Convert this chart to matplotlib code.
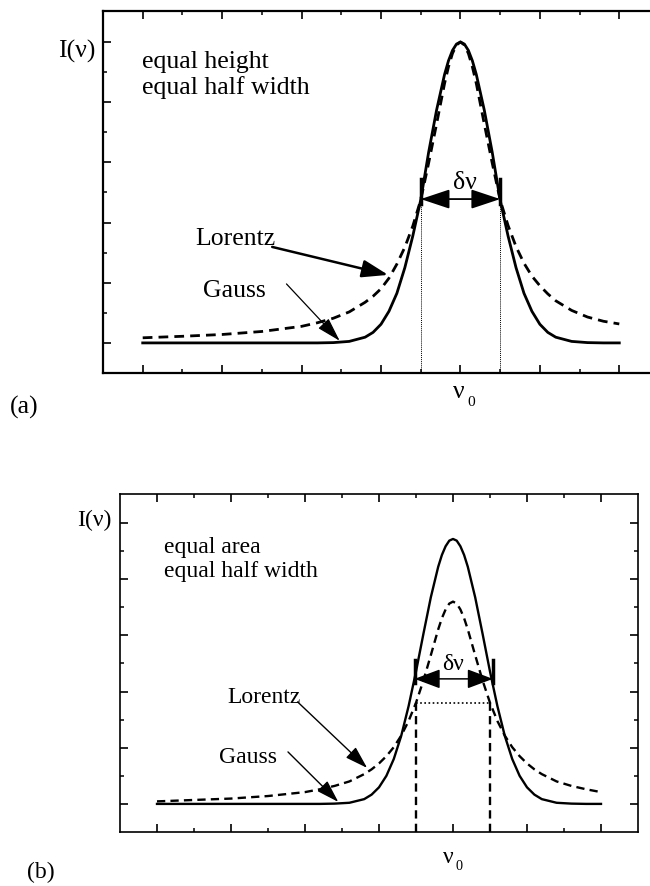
import matplotlib
matplotlib.use('Agg')
import matplotlib.pyplot as plt
from matplotlib.ticker import FixedLocator

plt.rcParams['font.family'] = ['Liberation Serif', 'DejaVu Serif']

# ---------------- data ----------------
# frequency offset from line centre, in units of the major tick spacing
nu = [-4.0, -3.5, -3.0, -2.5, -2.0, -1.8, -1.6, -1.4, -1.2, -1.1, -1.0, -0.9,
      -0.8, -0.7, -0.6, -0.5, -0.4, -0.3, -0.2, -0.15, -0.1, -0.05, 0.0,
      0.05, 0.1, 0.15, 0.2, 0.3, 0.4, 0.5, 0.6, 0.7, 0.8, 0.9, 1.0, 1.1,
      1.2, 1.4, 1.6, 1.8, 2.0]

# (a) equal height, equal half width
gauss_a = [0.0, 0.0, 0.0, 0.0, 0.0, 0.0, 0.001, 0.005, 0.019, 0.035, 0.062, 0.105,
           0.165, 0.25, 0.355, 0.475, 0.634, 0.774, 0.892, 0.938, 0.972, 0.993, 1.0,
           0.993, 0.972, 0.938, 0.892, 0.774, 0.634, 0.475, 0.355, 0.25, 0.165, 0.105, 0.062, 0.035,
           0.019, 0.005, 0.001, 0.0, 0.0]
lorentz_a = [0.017, 0.022, 0.028, 0.038, 0.055, 0.067, 0.082, 0.103, 0.135, 0.155, 0.18, 0.215,
             0.262, 0.318, 0.388, 0.475, 0.598, 0.728, 0.862, 0.918, 0.962, 0.99, 1.0,
             0.99, 0.962, 0.918, 0.862, 0.728, 0.598, 0.475, 0.39, 0.32, 0.265, 0.222, 0.19, 0.163,
             0.14, 0.108, 0.086, 0.072, 0.063]

# (b) equal area, equal half width
gauss_b = [0.0, 0.0, 0.0, 0.0, 0.0, 0.0, 0.001, 0.004, 0.017, 0.033, 0.059, 0.10,
           0.16, 0.242, 0.348, 0.471, 0.605, 0.735, 0.844, 0.886, 0.917, 0.937, 0.943,
           0.937, 0.917, 0.886, 0.844, 0.735, 0.605, 0.471, 0.348, 0.242, 0.16, 0.10, 0.059, 0.033,
           0.017, 0.004, 0.001, 0.0, 0.0]
lorentz_b = [0.009, 0.014, 0.019, 0.028, 0.042, 0.052, 0.064, 0.08, 0.106, 0.123, 0.144, 0.17,
             0.202, 0.243, 0.295, 0.36, 0.439, 0.529, 0.621, 0.661, 0.692, 0.713, 0.72,
             0.713, 0.692, 0.661, 0.621, 0.529, 0.439, 0.36, 0.295, 0.243, 0.202, 0.17, 0.144, 0.123,
             0.106, 0.08, 0.064, 0.052, 0.042]

x_major = [-4, -3, -2, -1, 0, 1, 2]
x_minor = [-3.5, -2.5, -1.5, -0.5, 0.5, 1.5]
y_major = [0.0, 0.2, 0.4, 0.6, 0.8, 1.0]
y_minor = [0.1, 0.3, 0.5, 0.7, 0.9]

half_width = 0.5          # half width at half maximum
level_a = 0.46            # half-maximum crossing marked in (a)
arrow_a = 0.478           # double arrow level in (a)
level_b_gauss = 0.445     # double arrow level in (b)
level_b_lor = 0.36        # Lorentz half maximum in (b)

# ---------------- figure ----------------
W, H = 650, 886
fig = plt.figure(figsize=(W / 100, H / 100), dpi=100)


def box(l, t, r, b):
    return [l / W, 1 - b / H, (r - l) / W, (b - t) / H]


def style(ax, lw):
    ax.set_xlim(-4.5, 2.5)
    ax.set_ylim(-0.1, 1.103)
    ax.xaxis.set_major_locator(FixedLocator(x_major))
    ax.xaxis.set_minor_locator(FixedLocator(x_minor))
    ax.yaxis.set_major_locator(FixedLocator(y_major))
    ax.yaxis.set_minor_locator(FixedLocator(y_minor))
    ax.tick_params(which='both', direction='in', top=True, right=True,
                   labelbottom=False, labelleft=False, color='k')
    ax.tick_params(which='major', length=6, width=1.2)
    ax.tick_params(which='minor', length=3, width=1.1)
    for s in ax.spines.values():
        s.set_linewidth(lw)


axa = fig.add_axes(box(103, 11, 659, 373))
axb = fig.add_axes(box(120, 494, 638, 832))
style(axa, 1.6)
style(axb, 1.2)

# ---- panel (a) ----
fa = 18.5
axa.plot(nu, gauss_a, color='k', lw=2.0)
axa.plot(nu, lorentz_a, color='k', lw=2.0, ls=(0, (3.5, 2.2)))
for s in (-half_width, half_width):
    axa.plot([s, s], [-0.1, level_a], color='k', lw=0.7, ls=(0, (1, 1)))
    axa.plot([s, s], [level_a, level_a + 0.085], color='k', lw=2.5)
axa.annotate('', xy=(half_width, arrow_a), xytext=(-half_width, arrow_a),
             arrowprops=dict(arrowstyle='<|-|>,head_length=0.9,head_width=0.3',
                             mutation_scale=20, lw=1.3, color='k',
                             shrinkA=0, shrinkB=0))
axa.text(0.06, 0.512, 'δν', fontsize=fa, ha='center', va='baseline')
axa.text(-4.01, 0.915, 'equal height', fontsize=fa, ha='left', va='baseline')
axa.text(-4.01, 0.828, 'equal half width', fontsize=fa, ha='left', va='baseline')
axa.text(-4.6, 0.967, 'I(ν)', fontsize=fa, ha='right', va='center')
axa.text(-3.34, 0.326, 'Lorentz', fontsize=fa, ha='left', va='baseline')
axa.text(-3.24, 0.153, 'Gauss', fontsize=fa, ha='left', va='baseline')
axa.annotate('', xy=(-0.91, 0.226), xytext=(-2.37, 0.319),
             arrowprops=dict(arrowstyle='-|>,head_length=0.8,head_width=0.27',
                             mutation_scale=20, lw=1.8, color='k',
                             shrinkA=0, shrinkB=0))
axa.annotate('', xy=(-1.52, 0.007), xytext=(-2.19, 0.196),
             arrowprops=dict(arrowstyle='-|>,head_length=0.75,head_width=0.22',
                             mutation_scale=20, lw=0.9, color='k',
                             shrinkA=0, shrinkB=0))

# ---- panel (b) ----
fb = 17
axb.plot(nu, gauss_b, color='k', lw=1.7)
axb.plot(nu, lorentz_b, color='k', lw=1.7, ls=(0, (3.5, 2.2)))
for s in (-half_width, half_width):
    axb.plot([s, s], [-0.1, level_b_lor], color='k', lw=1.7, ls=(0, (3.5, 2.2)))
axb.plot([-half_width, half_width], [level_b_lor, level_b_lor], color='k', lw=1.2,
         ls=(0, (1, 1.5)))
for s in (-0.52, 0.54):
    axb.plot([s, s], [0.43, 0.512], color='k', lw=2.5)
axb.annotate('', xy=(0.54, level_b_gauss), xytext=(-0.52, level_b_gauss),
             arrowprops=dict(arrowstyle='<|-|>,head_length=0.8,head_width=0.3',
                             mutation_scale=20, lw=1.1, color='k',
                             shrinkA=0, shrinkB=0))
axb.text(0.0, 0.477, 'δν', fontsize=fb, ha='center', va='baseline')
axb.text(-3.9, 0.893, 'equal area', fontsize=fb, ha='left', va='baseline')
axb.text(-3.9, 0.808, 'equal half width', fontsize=fb, ha='left', va='baseline')
axb.text(-4.62, 1.01, 'I(ν)', fontsize=fb, ha='right', va='center')
axb.text(-3.05, 0.36, 'Lorentz', fontsize=fb, ha='left', va='baseline')
axb.text(-3.16, 0.146, 'Gauss', fontsize=fb, ha='left', va='baseline')
axb.annotate('', xy=(-1.16, 0.128), xytext=(-2.1, 0.363),
             arrowprops=dict(arrowstyle='-|>,head_length=0.7,head_width=0.22',
                             mutation_scale=20, lw=1.0, color='k',
                             shrinkA=0, shrinkB=0))
axb.annotate('', xy=(-1.55, 0.007), xytext=(-2.23, 0.185),
             arrowprops=dict(arrowstyle='-|>,head_length=0.7,head_width=0.22',
                             mutation_scale=20, lw=1.0, color='k',
                             shrinkA=0, shrinkB=0))

# ---- labels outside the boxes (pixel positions) ----
def ftext(px, py, s, size, **kw):
    fig.text(px / W, 1 - py / H, s, fontsize=size, va='baseline', **kw)

ftext(453, 398, 'ν', fa, ha='left')
ftext(467, 406, '0', fa * 0.6, ha='left')
ftext(10, 414, '(a)', fa, ha='left')

ftext(443, 863, 'ν', fb, ha='left')
ftext(456, 870, '0', fb * 0.6, ha='left')
ftext(27, 878, '(b)', fb, ha='left')

fig.savefig('out.png', dpi=100)
